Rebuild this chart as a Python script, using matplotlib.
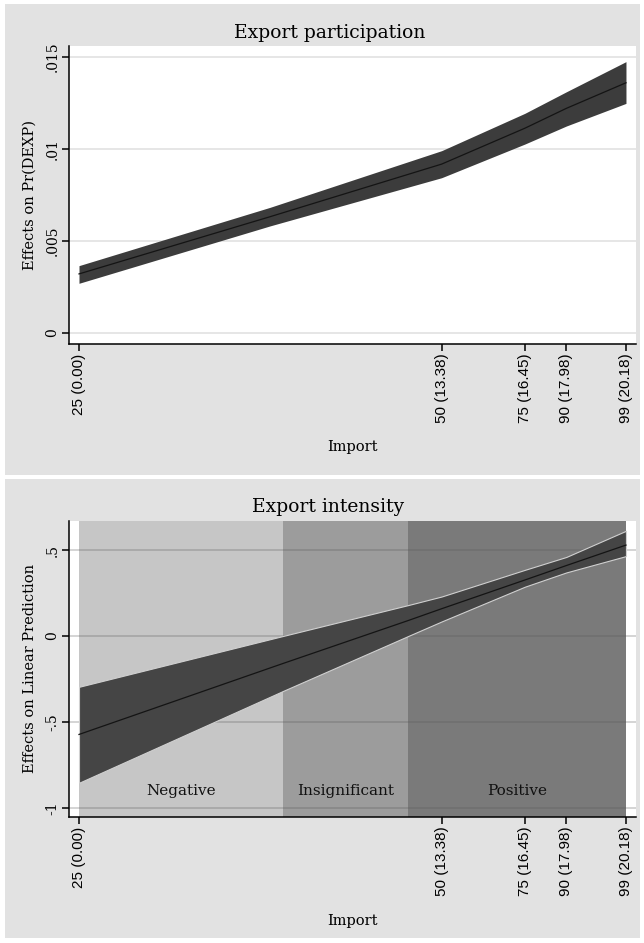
import matplotlib.pyplot as plt
from matplotlib.patches import Rectangle

# import values at the percentile ticks
tick_pos = [0.00, 13.38, 16.45, 17.98, 20.18]
tick_labels = ["25 (0.00)", "50 (13.38)", "75 (16.45)", "90 (17.98)", "99 (20.18)"]

# export participation: effect on Pr(DEXP)
part_x = [0.00, 7.05, 13.38, 16.45, 17.98, 20.18]
part_mid = [0.00321, 0.00632, 0.00918, 0.01113, 0.01221, 0.01360]
part_hi = [0.00366, 0.00683, 0.00991, 0.01194, 0.01311, 0.01475]
part_lo = [0.00270, 0.00582, 0.00844, 0.01027, 0.01125, 0.01248]
part_yticks = [0, 0.005, 0.01, 0.015]
part_ylabels = ["0", ".005", ".01", ".015"]

# export intensity: effect on linear prediction
int_x = [0.00, 7.515, 12.14, 13.38, 16.45, 17.98, 20.18]
int_mid = [-0.572, -0.160, 0.090, 0.159, 0.326, 0.410, 0.529]
int_hi = [-0.295, 0.000, 0.180, 0.230, 0.385, 0.460, 0.612]
int_lo = [-0.853, -0.320, 0.000, 0.085, 0.287, 0.370, 0.465]
int_yticks = [-1, -0.5, 0, 0.5]
int_ylabels = ["-1", "-.5", "0", ".5"]

# significance regions
regions = ["Negative", "Insignificant", "Positive"]
region_edges = [0.00, 7.515, 12.14, 20.18]
region_colors = ["#c6c6c6", "#9c9c9c", "#7a7a7a"]

W, H = 644, 943
SERIF = ["DejaVu Serif"]
SANS = ["Liberation Sans", "DejaVu Sans"]

fig = plt.figure(figsize=(W / 100, H / 100), dpi=100, facecolor="white")


def fx(px):
    return px / W


def fy(py):
    return 1 - py / H


def panel(top, bottom):
    fig.patches.append(Rectangle((fx(5), fy(bottom)), fx(635), (bottom - top) / H,
                                 transform=fig.transFigure, facecolor="#e2e2e2",
                                 edgecolor="none", zorder=-10))


def setup(ax, yticks, ylabels):
    ax.set_xlim(-0.369, 20.55)
    for s in ["top", "right"]:
        ax.spines[s].set_visible(False)
    ax.spines["left"].set_linewidth(1.1)
    ax.spines["bottom"].set_linewidth(1.1)
    ax.set_xticks(tick_pos)
    ax.set_xticklabels(tick_labels, rotation=90, family=SANS, fontsize=11)
    ax.set_yticks(yticks)
    ax.set_yticklabels(ylabels, rotation=90, va="center", family=SERIF, fontsize=10)
    ax.tick_params(length=5, width=1.1, pad=2)


# ---- top panel ----
panel(4, 475)
ax1 = fig.add_axes([fx(69), fy(344), fx(567), 298 / H])
ax1.set_facecolor("white")
ax1.set_ylim(-0.0006, 0.0156)
setup(ax1, part_yticks, part_ylabels)
for y in part_yticks:
    ax1.axhline(y, color="#e2e2e2", lw=1.2, zorder=1)
ax1.fill_between(part_x, part_lo, part_hi, color="#3c3c3c", lw=0, zorder=2)
ax1.plot(part_x, part_mid, color="#141414", lw=0.9, zorder=3)

fig.text(fx(330), fy(33), "Export participation", family=SERIF, fontsize=13.5,
         ha="center", va="center")
fig.text(fx(30), fy(195), "Effects on Pr(DEXP)", family=SERIF, fontsize=10.5,
         rotation=90, ha="center", va="center")
fig.text(fx(352), fy(447), "Import", family=SERIF, fontsize=10.5, ha="center", va="center")

# ---- bottom panel ----
panel(479, 938)
ax2 = fig.add_axes([fx(69), fy(817), fx(567), 296 / H])
ax2.set_facecolor("white")
ax2.set_ylim(-1.052, 0.669)
setup(ax2, int_yticks, int_ylabels)
for i, name in enumerate(regions):
    ax2.axvspan(region_edges[i], region_edges[i + 1], color=region_colors[i], lw=0, zorder=1)
    ax2.text((region_edges[i] + region_edges[i + 1]) / 2, -0.90, name, family=SERIF,
             fontsize=11, ha="center", va="center", color="#111111", zorder=5)
for y in int_yticks:
    ax2.axhline(y, color="#555555", alpha=0.25, lw=1.4, zorder=2)
ax2.fill_between(int_x, int_lo, int_hi, facecolor="#454545", edgecolor="#d0d0d0",
                 lw=0.8, zorder=3)
ax2.plot(int_x, int_mid, color="#141414", lw=0.9, zorder=4)

fig.text(fx(328), fy(507), "Export intensity", family=SERIF, fontsize=13.5,
         ha="center", va="center")
fig.text(fx(30), fy(668), "Effects on Linear Prediction", family=SERIF, fontsize=10.5,
         rotation=90, ha="center", va="center")
fig.text(fx(352), fy(921), "Import", family=SERIF, fontsize=10.5, ha="center", va="center")

fig.savefig("out.png", dpi=100, facecolor="white")
